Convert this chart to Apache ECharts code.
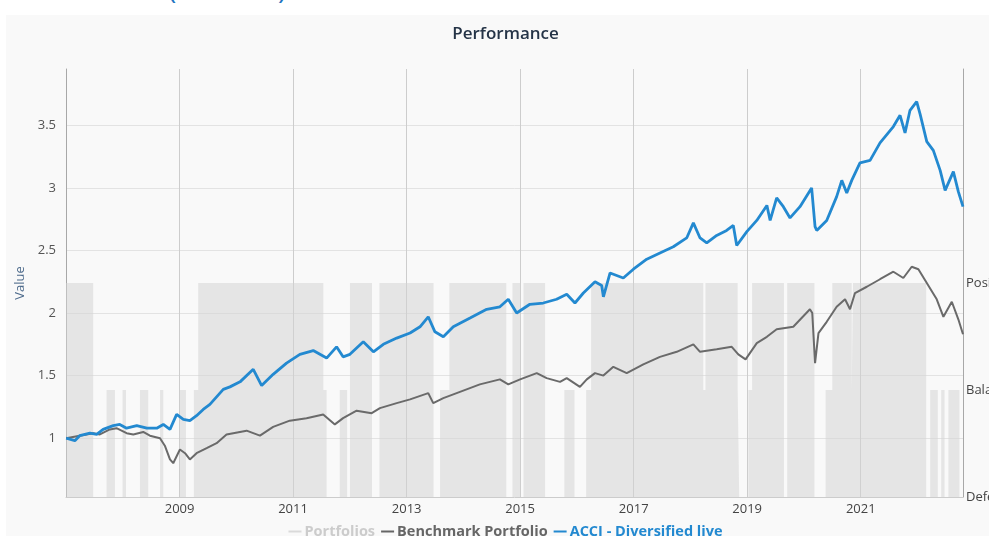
<!DOCTYPE html>
<html>
<head>
<meta charset="utf-8">
<title>Performance</title>
<script src="https://cdn.jsdelivr.net/npm/echarts@6/dist/echarts.min.js"></script>
<style>
  html, body { margin: 0; padding: 0; background: #fff; width: 989px; height: 536px; overflow: hidden; }
  .paren { position: absolute; top: -26px; font: 28px 'Open Sans', sans-serif; line-height: 28px; color: #1f74c0; }
  #chart { position: absolute; left: 6px; top: 15px; width: 999px; height: 521px; }
</style>
</head>
<body>
<span class="paren" style="left:168px">(</span>
<span class="paren" style="left:278px">)</span>
<div id="chart"></div>
<script>
'use strict';

// allocation state changes: 0 = Defensive, 1 = Balanced, 2 = Positive
var levelNames = ['Defensive', 'Balanced', 'Positive'];
var portfolioSteps = [
  ['2007-01-01', 2], ['2007-06-25', 0], ['2007-09-19', 1], ['2007-11-12', 0],
  ['2007-12-31', 1], ['2008-01-22', 0], ['2008-04-21', 1], ['2008-06-13', 0],
  ['2008-08-28', 1], ['2008-09-18', 0], ['2009-01-03', 1], ['2009-02-11', 0],
  ['2009-04-03', 1], ['2009-05-01', 2], ['2011-07-15', 1], ['2011-08-05', 0],
  ['2011-10-29', 1], ['2011-12-15', 0], ['2012-01-02', 2], ['2012-05-23', 0],
  ['2012-07-10', 2], ['2013-06-23', 0], ['2013-08-04', 1], ['2013-10-03', 2],
  ['2014-10-04', 0], ['2014-11-13', 2], ['2015-01-04', 0], ['2015-01-23', 2],
  ['2015-06-11', 0], ['2015-10-13', 1], ['2015-12-17', 0], ['2016-03-01', 1],
  ['2016-04-02', 2], ['2018-03-25', 1], ['2018-04-08', 2], ['2018-11-01', 1],
  ['2018-11-11', 0], ['2019-01-09', 1], ['2019-02-02', 2], ['2019-08-26', 0],
  ['2019-09-16', 2], ['2020-03-09', 0], ['2020-05-20', 1], ['2020-07-02', 2],
  ['2020-11-04', 1], ['2020-11-12', 2], ['2022-02-26', 0], ['2022-03-24', 1],
  ['2022-05-12', 0], ['2022-06-03', 1], ['2022-06-24', 0], ['2022-07-19', 1],
  ['2022-09-28', 0], ['2022-10-21', 0]
];

var benchmark = [
  ['2007-01-02', 1.00], ['2007-03-30', 1.02], ['2007-06-25', 1.04], ['2007-08-07', 1.03],
  ['2007-10-10', 1.07], ['2007-11-22', 1.08], ['2008-01-26', 1.04], ['2008-03-09', 1.03],
  ['2008-05-12', 1.05], ['2008-06-24', 1.02], ['2008-08-28', 1.00], ['2008-09-28', 0.94],
  ['2008-10-31', 0.83], ['2008-11-21', 0.80], ['2009-01-03', 0.91], ['2009-02-05', 0.88],
  ['2009-03-08', 0.83], ['2009-04-20', 0.88], ['2009-06-24', 0.92], ['2009-08-27', 0.96],
  ['2009-10-30', 1.03], ['2009-12-12', 1.04], ['2010-03-08', 1.06], ['2010-06-02', 1.02],
  ['2010-08-26', 1.09], ['2010-12-11', 1.14], ['2011-03-29', 1.16], ['2011-07-14', 1.19],
  ['2011-09-27', 1.11], ['2011-11-19', 1.16], ['2012-02-14', 1.22], ['2012-05-21', 1.20],
  ['2012-07-13', 1.24], ['2012-10-29', 1.28], ['2013-01-23', 1.31], ['2013-05-20', 1.36],
  ['2013-06-21', 1.28], ['2013-08-25', 1.32], ['2013-12-10', 1.37], ['2014-04-17', 1.43],
  ['2014-08-24', 1.47], ['2014-10-17', 1.43], ['2015-01-01', 1.47], ['2015-04-18', 1.52],
  ['2015-06-21', 1.48], ['2015-09-15', 1.45], ['2015-10-28', 1.48], ['2016-01-21', 1.41],
  ['2016-03-05', 1.47], ['2016-04-27', 1.52], ['2016-06-20', 1.50], ['2016-08-23', 1.57],
  ['2016-11-17', 1.52], ['2017-03-04', 1.59], ['2017-06-19', 1.65], ['2017-10-05', 1.69],
  ['2018-01-20', 1.75], ['2018-03-04', 1.69], ['2018-06-19', 1.71], ['2018-09-24', 1.73],
  ['2018-11-05', 1.67], ['2018-12-22', 1.63], ['2019-03-04', 1.76], ['2019-05-08', 1.81],
  ['2019-07-10', 1.87], ['2019-09-02', 1.88], ['2019-10-25', 1.89], ['2020-02-09', 2.03],
  ['2020-02-24', 2.00], ['2020-03-13', 1.60], ['2020-04-04', 1.84], ['2020-05-27', 1.93],
  ['2020-07-30', 2.05], ['2020-09-22', 2.11], ['2020-10-24', 2.03], ['2020-11-25', 2.16],
  ['2021-02-09', 2.21], ['2021-05-05', 2.27], ['2021-07-30', 2.33], ['2021-10-02', 2.28],
  ['2021-11-25', 2.37], ['2022-01-07', 2.35], ['2022-03-02', 2.24], ['2022-05-05', 2.11],
  ['2022-06-17', 1.97], ['2022-08-10', 2.09], ['2022-09-21', 1.95], ['2022-10-21', 1.83]
];

var acciLive = [
  ['2007-01-02', 1.00], ['2007-02-27', 0.98], ['2007-03-30', 1.02], ['2007-06-04', 1.04],
  ['2007-07-17', 1.03], ['2007-08-28', 1.07], ['2007-11-01', 1.10], ['2007-12-13', 1.11],
  ['2008-01-26', 1.08], ['2008-03-31', 1.10], ['2008-06-04', 1.08], ['2008-08-07', 1.08],
  ['2008-09-18', 1.11], ['2008-10-31', 1.07], ['2008-12-13', 1.19], ['2009-01-25', 1.15],
  ['2009-03-08', 1.14], ['2009-04-20', 1.18], ['2009-06-02', 1.23], ['2009-07-15', 1.27],
  ['2009-08-27', 1.33], ['2009-10-09', 1.39], ['2009-11-21', 1.41], ['2010-01-25', 1.45],
  ['2010-04-20', 1.55], ['2010-06-13', 1.42], ['2010-08-26', 1.51], ['2010-11-20', 1.60],
  ['2011-02-14', 1.67], ['2011-05-11', 1.70], ['2011-08-05', 1.64], ['2011-10-08', 1.73],
  ['2011-11-19', 1.65], ['2012-01-02', 1.67], ['2012-03-28', 1.77], ['2012-06-01', 1.69],
  ['2012-08-04', 1.75], ['2012-10-29', 1.80], ['2013-01-23', 1.84], ['2013-03-28', 1.89],
  ['2013-05-20', 1.97], ['2013-07-02', 1.85], ['2013-08-25', 1.81], ['2013-10-28', 1.89],
  ['2014-02-13', 1.96], ['2014-05-31', 2.03], ['2014-08-24', 2.05], ['2014-10-17', 2.11],
  ['2014-12-10', 2.00], ['2015-03-05', 2.07], ['2015-05-30', 2.08], ['2015-08-24', 2.11],
  ['2015-10-28', 2.15], ['2015-12-20', 2.08], ['2016-02-12', 2.16], ['2016-04-27', 2.25],
  ['2016-06-09', 2.22], ['2016-06-20', 2.13], ['2016-08-02', 2.32], ['2016-10-26', 2.28],
  ['2016-12-30', 2.35], ['2017-03-26', 2.43], ['2017-06-19', 2.48], ['2017-09-13', 2.53],
  ['2017-12-08', 2.60], ['2018-01-20', 2.72], ['2018-03-04', 2.60], ['2018-04-16', 2.56],
  ['2018-06-19', 2.62], ['2018-08-22', 2.66], ['2018-10-04', 2.70], ['2018-10-26', 2.54],
  ['2018-12-30', 2.65], ['2019-03-04', 2.74], ['2019-05-08', 2.86], ['2019-05-29', 2.74],
  ['2019-07-10', 2.92], ['2019-08-22', 2.85], ['2019-10-04', 2.76], ['2019-12-07', 2.85],
  ['2020-02-20', 3.00], ['2020-03-13', 2.69], ['2020-03-24', 2.66], ['2020-05-27', 2.74],
  ['2020-07-30', 2.93], ['2020-09-01', 3.06], ['2020-10-03', 2.96], ['2020-11-04', 3.06],
  ['2020-12-27', 3.20], ['2021-03-02', 3.22], ['2021-05-05', 3.36], ['2021-07-30', 3.49],
  ['2021-09-11', 3.58], ['2021-10-13', 3.44], ['2021-11-14', 3.62], ['2021-12-27', 3.69],
  ['2022-01-18', 3.59], ['2022-03-02', 3.37], ['2022-04-13', 3.30], ['2022-05-27', 3.14],
  ['2022-06-28', 2.98], ['2022-08-20', 3.13], ['2022-09-21', 2.97], ['2022-10-21', 2.85]
];

var yearTicks = ['2009-01-01', '2011-01-01', '2013-01-01', '2015-01-01',
  '2017-01-01', '2019-01-01', '2021-01-01'];
var valueTicks = [1, 1.5, 2, 2.5, 3, 3.5];

var font = "'Open Sans', sans-serif";
var ts = function (s) { return +echarts.time.parse(s); };
var toPoints = function (rows) {
  return rows.map(function (r) { return [ts(r[0]), r[1]]; });
};
var yearValues = yearTicks.map(ts);

var myChart = echarts.init(document.getElementById('chart'));
var option = {
  backgroundColor: '#f9f9f9',
  animation: false,
  textStyle: { fontFamily: font },
  title: {
    text: 'Performance',
    left: 'center',
    top: 6,
    textStyle: { fontFamily: font, fontSize: 17, fontWeight: 600, color: '#253447' }
  },
  legend: {
    left: 'center',
    top: 504,
    icon: 'rect',
    itemWidth: 13,
    itemHeight: 2,
    itemGap: 6,
    textStyle: { fontFamily: font, fontSize: 14.5, fontWeight: 'bold', padding: [0, 0, 0, -2] },
    data: [
      { name: 'Portfolios', itemStyle: { color: '#dadada' }, textStyle: { color: '#cccccc' } },
      { name: 'Benchmark Portfolio', itemStyle: { color: '#666666' }, textStyle: { color: '#666666' } },
      { name: 'ACCI - Diversified live', itemStyle: { color: '#2389d0' }, textStyle: { color: '#2389d0' } }
    ]
  },
  grid: { left: 60, right: 42, top: 54, bottom: 39, containLabel: false, outerBoundsMode: 'none' },
  xAxis: {
    type: 'value',
    min: ts('2007-01-01'),
    max: ts('2022-10-21'),
    axisLine: { show: true, lineStyle: { color: '#cccccc' } },
    axisTick: { show: false, customValues: yearValues },
    axisLabel: {
      customValues: yearValues,
      color: '#444',
      fontSize: 13,
      margin: 6,
      formatter: function (v) { return String(new Date(v).getFullYear()); }
    },
    splitLine: { show: true, lineStyle: { color: '#cdcdcd' } }
  },
  yAxis: [{
    type: 'value',
    min: 0.53,
    max: 3.95,
    name: 'Value',
    nameLocation: 'middle',
    nameGap: 37,
    nameTextStyle: { color: '#4e6b8c', fontSize: 13 },
    axisLine: { show: true, lineStyle: { color: '#a8a8a8' } },
    axisTick: { show: false, customValues: valueTicks },
    axisLabel: { customValues: valueTicks, color: '#555', fontSize: 13, margin: 10 },
    splitLine: { show: true, lineStyle: { color: '#e3e3e3' } }
  }, {
    type: 'value',
    position: 'right',
    min: 0,
    max: 4,
    interval: 1,
    axisLine: { show: true, lineStyle: { color: '#a8a8a8' } },
    axisTick: { show: false },
    splitLine: { show: false },
    axisLabel: {
      color: '#444',
      fontSize: 13,
      margin: 3,
      padding: [5, 0, 0, 0],
      formatter: function (v) { return levelNames[v] || ''; }
    }
  }],
  series: [{
    name: 'Portfolios',
    type: 'line',
    yAxisIndex: 1,
    step: 'end',
    symbol: 'none',
    z: 1,
    itemStyle: { color: '#dadada' },
    lineStyle: { width: 0 },
    areaStyle: { color: 'rgba(212,212,212,0.75)' },
    data: toPoints(portfolioSteps)
  }, {
    name: 'Benchmark Portfolio',
    type: 'line',
    symbol: 'none',
    z: 3,
    itemStyle: { color: '#666666' },
    lineStyle: { width: 2, color: '#6a6a6a' },
    data: toPoints(benchmark)
  }, {
    name: 'ACCI - Diversified live',
    type: 'line',
    symbol: 'none',
    z: 4,
    itemStyle: { color: '#2389d0' },
    lineStyle: { width: 2.8, color: '#2389d0' },
    data: toPoints(acciLive)
  }]
};
myChart.setOption(option);
</script>
</body>
</html>
